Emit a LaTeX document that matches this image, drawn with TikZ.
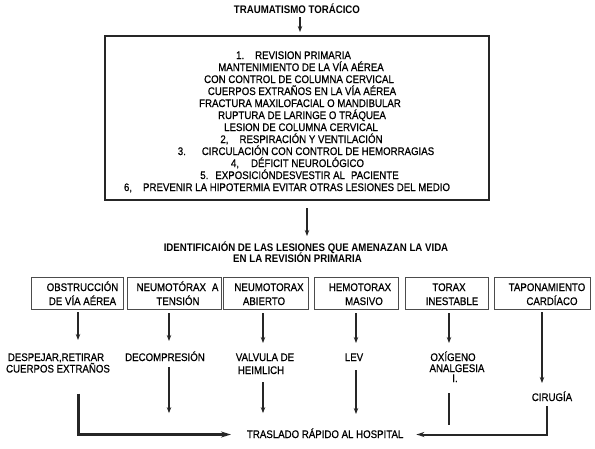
\documentclass[tikz,border=0pt]{standalone}
\usepackage{fontspec}
\setmainfont[FakeStretch=0.88]{Liberation Sans}
\newfontfamily\regfont[FakeStretch=0.88,FakeBold=0.6]{Liberation Sans}
\usetikzlibrary{arrows.meta,calc}
\begin{document}
\begin{tikzpicture}[x=1pt,y=-1pt,
  every node/.style={inner sep=0pt, outer sep=0pt},
  txt/.style={anchor=base, yshift=-0.5pt, font=\regfont\fontsize{11}{12}\selectfont, text=black},
  btxt/.style={anchor=base, yshift=-0.5pt, font=\fontsize{11}{12}\selectfont\bfseries, text=black},
  bigbox/.style={draw=black!85, line width=1.6pt, minimum width=384pt, minimum height=164pt},
  sbox/.style={draw=black!70, line width=1pt, minimum width=#1, minimum height=32pt},
  arr/.style={draw=black!85, line width=1.1pt, -{Stealth[length=6pt,width=4.5pt]}},
  plain/.style={draw=black!85, line width=1.1pt},
]
\useasboundingbox (0,0) rectangle (595,448);

% title
\node[btxt] (title) at (297,12.5) {TRAUMATISMO TORÁCICO};
\node[bigbox] (box) at (297,118) {};
\draw[arr] ($(title.south)+(3,4)$) -- ($(box.north)+(3,-4)$);

% main box lines
\node[txt] (m1)  at (293.5,58.5)  {1.\hspace{11pt}REVISION PRIMARIA};
\node[txt] (m2)  at (301,70.5)    {MANTENIMIENTO DE LA VÍA AÉREA};
\node[txt] (m3)  at (299,82.5)    {CON CONTROL DE COLUMNA CERVICAL};
\node[txt] (m4)  at (302,94.5)    {CUERPOS EXTRAÑOS EN LA VÍA AÉREA};
\node[txt] (m5)  at (300,106.5)   {FRACTURA MAXILOFACIAL O MANDIBULAR};
\node[txt] (m6)  at (302,118.5)   {RUPTURA DE LARINGE O TRÁQUEA};
\node[txt] (m7)  at (301,130.5)   {LESION DE COLUMNA CERVICAL};
\node[txt] (m8)  at (301.5,142.5) {2,\hspace{11pt}RESPIRACIÓN Y VENTILACIÓN};
\node[txt] (m9)  at (306,154.5)   {3.\hspace{16pt}CIRCULACIÓN CON CONTROL DE HEMORRAGIAS};
\node[txt] (m10) at (297.5,166.5) {4,\hspace{12pt}DÉFICIT NEUROLÓGICO};
\node[txt] (m11) at (299.5,178.5) {5.\hspace{7pt}EXPOSICIÓNDESVESTIR AL\hspace{6pt}PACIENTE};
\node[txt] (m12) at (287,190.5)   {6,\hspace{11pt}PREVENIR LA HIPOTERMIA EVITAR OTRAS LESIONES DEL MEDIO};

% heading
\node[btxt] (h1) at (306,250.5) {IDENTIFICAIÓN DE LAS LESIONES QUE AMENAZAN LA VIDA};
\node[btxt] (h2) at (297.5,261.5) {EN LA REVISIÓN PRIMARIA};
\draw[arr] ($(box.south)+(10,8)$) -- ($(box.south)+(10,36)$);

% lesion boxes
\node[sbox=92pt] (b1) at (77,293) {};
\node[sbox=94pt] (b2) at (174,293) {};
\node[sbox=85pt] (b3) at (265.5,293) {};
\node[sbox=84pt] (b4) at (356,293) {};
\node[sbox=83pt] (b5) at (446.5,293) {};
\node[sbox=96pt] (b6) at (542,293) {};

\node[txt] (b1a) at (82.5,290.5) {OBSTRUCCIÓN};
\node[txt] (b1b) at (82.5,304.5) {DE VÍA AÉREA};
\node[txt] (b2a) at (177.5,290.5) {NEUMOTÓRAX\hspace{6pt}A};
\node[txt] (b2b) at (178,304.5) {TENSIÓN};
\node[txt] (b3a) at (269,290.5) {NEUMOTORAX};
\node[txt] (b3b) at (264,304.5) {ABIERTO};
\node[txt] (b4a) at (360,290.5) {HEMOTORAX};
\node[txt] (b4b) at (364,304.5) {MASIVO};
\node[txt] (b5a) at (449,290.5) {TORAX};
\node[txt] (b5b) at (452,304.5) {INESTABLE};
\node[txt] (b6a) at (547,290.5) {TAPONAMIENTO};
\node[txt] (b6b) at (552,304.5) {CARDÍACO};

% actions
\node[txt] (t1a) at (56,360.5) {DESPEJAR,RETIRAR};
\node[txt] (t1b) at (58,372) {CUERPOS EXTRAÑOS};
\node[txt] (t2) at (165,360.5) {DECOMPRESIÓN};
\node[txt] (t3a) at (265,360.5) {VALVULA DE};
\node[txt] (t3b) at (261,373.5) {HEIMLICH};
\node[txt] (t4) at (354,360.5) {LEV};
\node[txt] (t5a) at (453,360.5) {OXÍGENO};
\node[txt] (t5b) at (457,371.5) {ANALGESIA};
\node[txt] (t5c) at (455,381.5) {I.};
\node[txt] (t6) at (552,400.5) {CIRUGÍA};

\node[txt, anchor=base west] (tras) at (247,437.5) {TRASLADO RÁPIDO AL HOSPITAL};

% arrows from boxes
\draw[arr] ($(b1.south)+(1,3)$) -- ($(b1.south)+(1,31)$);
\draw[arr] ($(b2.south)+(-5,4)$) -- ($(b2.south)+(-5,32)$);
\draw[arr] ($(b3.south)+(-2.5,4)$) -- ($(b3.south)+(-2.5,34)$);
\draw[arr] ($(b4.south)+(0,4)$) -- ($(b4.south)+(0,34)$);
\draw[arr] ($(b5.south)+(2.5,4)$) -- ($(b5.south)+(2.5,34)$);
\draw[arr] ($(b6.south)+(0,3)$) -- ($(b6.south)+(0,74)$);

% second arrows
\draw[arr] ($(t2.south)+(4,6)$) -- ($(t2.south)+(4,52)$);
\draw[arr] ($(t3b.south)+(2,8)$) -- ($(t3b.south)+(2,39)$);
\draw[arr] ($(t4.south)+(2,9)$) -- ($(t4.south)+(2,53)$);
\draw[plain] ($(t5c.south)+(-6,11)$) -- ($(t5c.south)+(-6,43)$);

% to hospital
\coordinate (l1) at ($(t1b.south)+(20,21)$);
\draw[draw=black!85, line width=3pt, -{Stealth[length=10pt,width=6pt]}]
  (l1) |- ($(tras.base west)+(-16,-3.5)$);
\draw[draw=black!85, line width=2pt, -{Stealth[length=8pt,width=5pt]}]
  ($(t6.south)+(-5,5)$) |- ($(tras.base east)+(13,-3.5)$);
\end{tikzpicture}
\end{document}
